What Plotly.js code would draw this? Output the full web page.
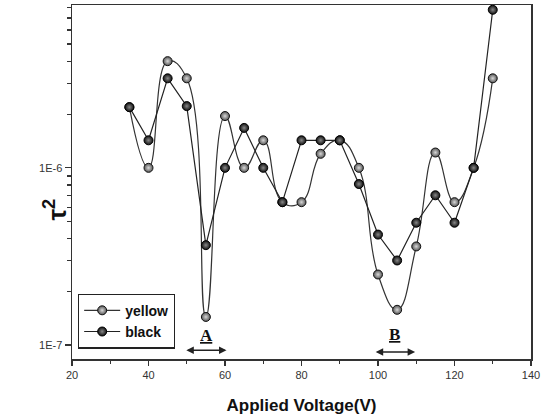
<!DOCTYPE html>
<html>
<head>
<meta charset="utf-8">
<script src="https://cdn.plot.ly/plotly-3.0.1.min.js"></script>
<style>html,body{margin:0;padding:0;background:#fff;}#chart{width:547px;height:419px;}</style>
</head>
<body>
<div id="chart"></div>
<script>
const voltage = [35,40,45,50,55,60,65,70,75,80,85,90,95,100,105,110,115,120,125,130];
const yellow = [2.2e-6,1.0e-6,4.0e-6,3.2e-6,1.44e-7,1.96e-6,1.0e-6,1.43e-6,6.4e-7,6.4e-7,1.2e-6,1.43e-6,1.0e-6,2.5e-7,1.58e-7,3.6e-7,1.22e-6,6.4e-7,1.0e-6,3.2e-6];
const black = [2.2e-6,1.43e-6,3.2e-6,2.23e-6,3.66e-7,1.0e-6,1.68e-6,1.0e-6,6.4e-7,1.43e-6,1.43e-6,1.43e-6,8.1e-7,4.2e-7,3.0e-7,4.9e-7,7.0e-7,4.9e-7,1.0e-6,7.8e-6];
const xTicks = [20,40,60,80,100,120,140];
const xMinor = [30,50,70,90,110,130];
const yTicks = [1e-7,1e-6];
const yTickText = ["1E-7","1E-6"];
const yMinor = [2e-7,3e-7,4e-7,5e-7,6e-7,7e-7,8e-7,9e-7,2e-6,3e-6,4e-6,5e-6,6e-6,7e-6,8e-6];

const traces = [
  {x: voltage, y: yellow, name: 'yellow', mode: 'lines+markers', type: 'scatter',
   line: {shape: 'spline', smoothing: 1.3, color: '#333', width: 1.2},
   marker: {size: 9, color: '#555', gradient: {type: 'radial', color: '#d8d8d8'}, line: {color: '#111', width: 1}}},
  {x: voltage, y: black, name: 'black', mode: 'lines+markers', type: 'scatter',
   line: {color: '#222', width: 1.2},
   marker: {size: 9, color: '#111', gradient: {type: 'radial', color: '#888'}, line: {color: '#000', width: 1}}}
];

const serif = 'Liberation Serif, Times New Roman, serif';
const layout = {
  width: 547, height: 419,
  margin: {l: 72, r: 16, t: 5, b: 60},
  paper_bgcolor: '#fff', plot_bgcolor: '#fff',
  font: {family: 'Liberation Sans, Arial, sans-serif', color: '#222'},
  showlegend: true,
  legend: {x: 0.013, y: 0.185, xanchor: 'left', yanchor: 'top', bordercolor: '#222', borderwidth: 1.2,
           bgcolor: '#fff', font: {size: 14, family: 'Liberation Sans, Arial, sans-serif', color: '#111', weight: 'bold'},
           tracegroupgap: 0, itemwidth: 36},
  xaxis: {range: [20, 140], tickvals: xTicks, ticks: 'outside', ticklen: 5, tickwidth: 1.2, tickcolor: '#333',
          showline: true, linecolor: '#333', linewidth: 1.5, mirror: true, showgrid: false, zeroline: false,
          minor: {tickvals: xMinor, ticks: 'outside', ticklen: 3, tickcolor: '#333'},
          tickfont: {size: 11, color: '#333'},
          title: {text: 'Applied Voltage(V)', font: {size: 17, weight: 'bold', color: '#111'}, standoff: 19}},
  yaxis: {type: 'log', range: [-7.079, -5.081], tickvals: yTicks, ticktext: yTickText, ticks: 'outside', ticklen: 6,
          tickwidth: 1.2, tickcolor: '#333', showline: true, linecolor: '#333', linewidth: 1.5, mirror: true,
          showgrid: false, zeroline: false,
          minor: {tickvals: yMinor, ticks: 'outside', ticklen: 4, tickcolor: '#333'},
          tickfont: {size: 11, color: '#333'}},
  annotations: [
    {x: -0.076, y: 0.421, xref: 'paper', yref: 'paper', text: '\u03c4<sup>2</sup>', showarrow: false, textangle: -90,
     font: {size: 26, weight: 'bold', color: '#111'}},
    {x: 55.2, y: 0.034, xref: 'x', yref: 'paper', yanchor: 'bottom', text: '<u>A</u>', showarrow: false,
     font: {family: serif, size: 17, weight: 'bold', color: '#111'}},
    {x: 104.3, y: 0.038, xref: 'x', yref: 'paper', yanchor: 'bottom', text: '<u>B</u>', showarrow: false,
     font: {family: serif, size: 17, weight: 'bold', color: '#111'}},
    {x: 60.4, y: 0.025, xref: 'x', yref: 'paper', ax: 49.5, ay: 0.025, axref: 'x', ayref: 'paper', text: '',
     showarrow: true, arrowside: 'end+start', arrowhead: 2, arrowsize: 1, arrowwidth: 1.5, arrowcolor: '#222'},
    {x: 109.7, y: 0.02, xref: 'x', yref: 'paper', ax: 99, ay: 0.02, axref: 'x', ayref: 'paper', text: '',
     showarrow: true, arrowside: 'end+start', arrowhead: 2, arrowsize: 1, arrowwidth: 1.5, arrowcolor: '#222'}
  ]
};

Plotly.newPlot('chart', traces, layout, {displayModeBar: false, staticPlot: true});
</script>
</body>
</html>
